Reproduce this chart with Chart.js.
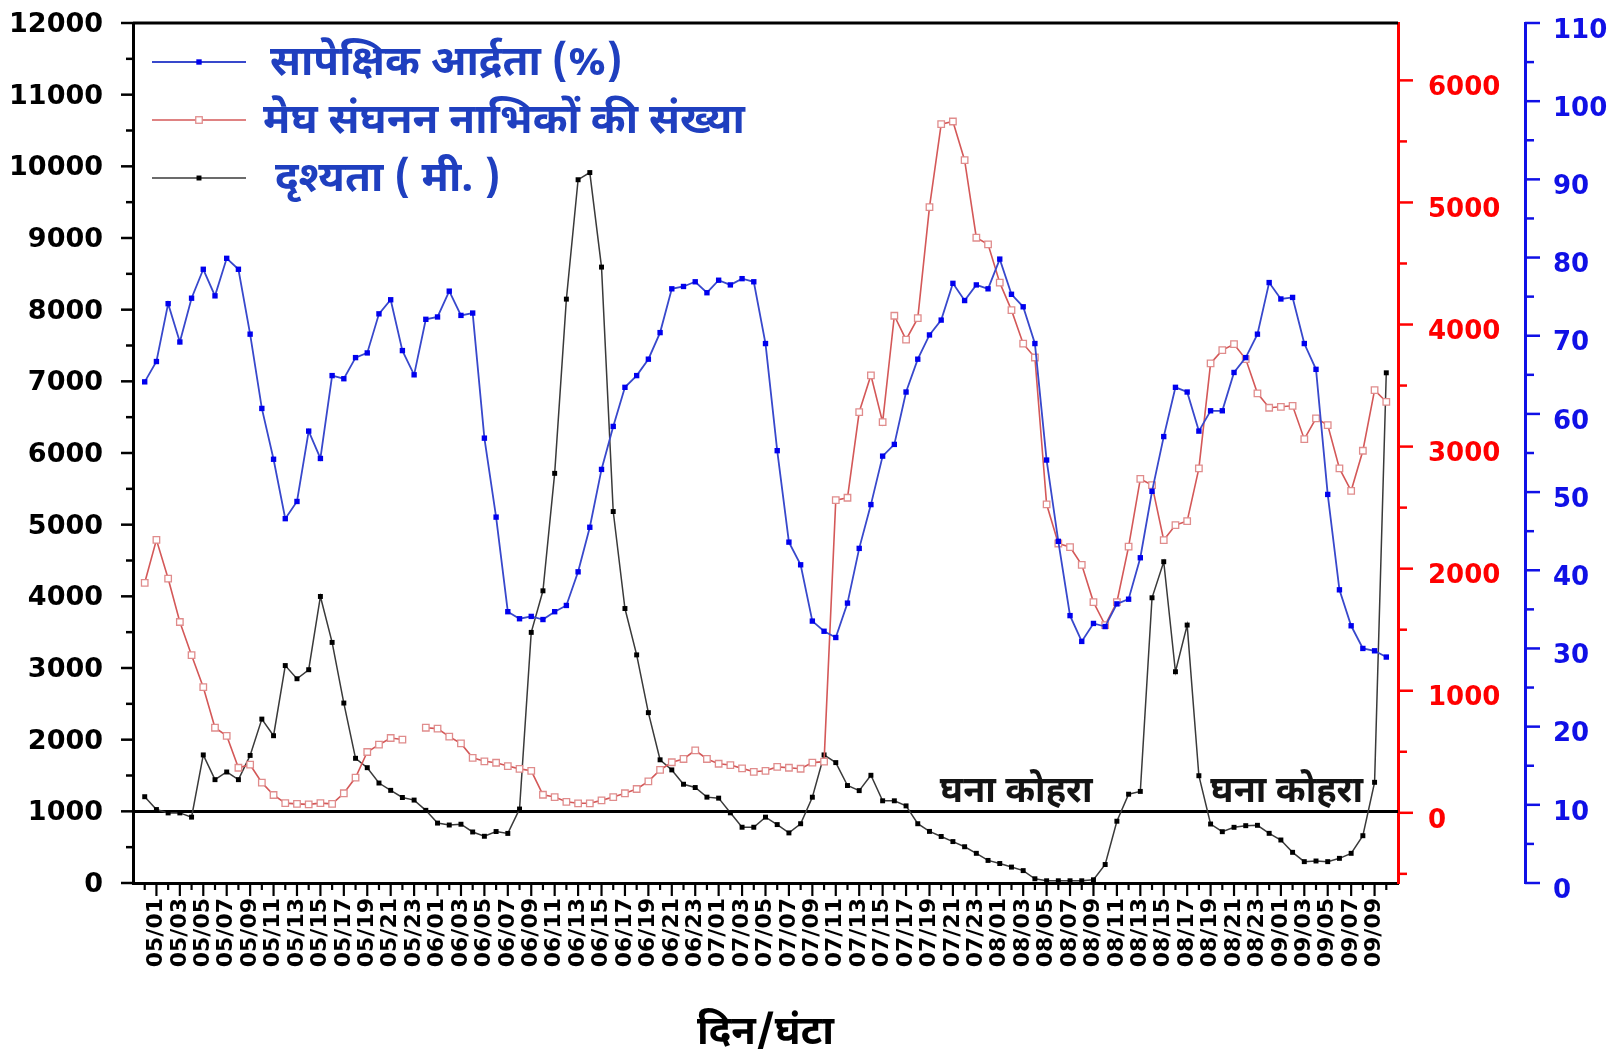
<!DOCTYPE html>
<html>
<head>
<meta charset="utf-8">
<script src="https://cdn.jsdelivr.net/npm/chart.js@4/dist/chart.umd.min.js"></script>
<style>
html,body{margin:0;padding:0;background:#ffffff;}
canvas{display:block;}
</style>
</head>
<body>
<canvas id="c" width="1623" height="1049"></canvas>
<script>
// ---------- DATA ----------
const categories = [
"05/00","05/01","05/02","05/03","05/04","05/05","05/06","05/07","05/08","05/09","05/10","05/11","05/12","05/13","05/14","05/15","05/16","05/17","05/18","05/19","05/20","05/21","05/22","05/23",
"06/00","06/01","06/02","06/03","06/04","06/05","06/06","06/07","06/08","06/09","06/10","06/11","06/12","06/13","06/14","06/15","06/16","06/17","06/18","06/19","06/20","06/21","06/22","06/23",
"07/00","07/01","07/02","07/03","07/04","07/05","07/06","07/07","07/08","07/09","07/10","07/11","07/12","07/13","07/14","07/15","07/16","07/17","07/18","07/19","07/20","07/21","07/22","07/23",
"08/00","08/01","08/02","08/03","08/04","08/05","08/06","08/07","08/08","08/09","08/10","08/11","08/12","08/13","08/14","08/15","08/16","08/17","08/18","08/19","08/20","08/21","08/22","08/23",
"09/00","09/01","09/02","09/03","09/04","09/05","09/06","09/07","09/08","09/09","09/10"
];

// Relative humidity (%) - right blue axis
const rhValues = [
64.1, 66.7, 74.1, 69.2, 74.8, 78.5, 75.1, 79.9, 78.5, 70.2,
60.7, 54.2, 46.6, 48.8, 57.8, 54.3, 64.9, 64.5, 67.2, 67.8,
72.8, 74.6, 68.1, 65.0, 72.1, 72.4, 75.7, 72.6, 72.9, 56.9,
46.8, 34.7, 33.8, 34.1, 33.7, 34.7, 35.5, 39.8, 45.5, 52.9,
58.4, 63.4, 64.9, 67.0, 70.4, 76.0, 76.3, 76.9, 75.5, 77.1,
76.5, 77.3, 76.9, 69.0, 55.3, 43.6, 40.7, 33.5, 32.2, 31.4,
35.8, 42.8, 48.4, 54.6, 56.1, 62.8, 67.0, 70.1, 72.0, 76.7,
74.5, 76.5, 76.0, 79.8, 75.3, 73.7, 69.0, 54.1, 43.7, 34.2,
30.9, 33.2, 32.8, 35.7, 36.3, 41.6, 50.1, 57.1, 63.4, 62.8,
57.8, 60.4, 60.4, 65.3, 67.2, 70.2, 76.8, 74.7, 74.9, 69.0,
65.7, 49.7, 37.5, 32.9, 30.0, 29.7, 28.9
];

// Cloud condensation nuclei count - right red axis
const ccnValues = [
1884, 2236, 1919, 1563, 1291, 1029, 697, 631, 369, 394,
247, 146, 79, 73, 69, 79, 73, 160, 289, 498,
558, 613, 600, null, 697, 690, 624, 568, 450, 422,
410, 383, 360, 344, 148, 129, 90, 78, 78, 102,
129, 160, 195, 258, 351, 414, 441, 512, 441, 402,
391, 364, 336, 344, 376, 369, 361, 411, 419, 2561,
2581, 3283, 3584, 3200, 4072, 3876, 4052, 4961, 5641, 5663,
5346, 4711, 4657, 4343, 4118, 3843, 3730, 2527, 2206, 2177,
2031, 1726, 1538, 1726, 2181, 2735, 2685, 2234, 2357, 2390,
2821, 3681, 3790, 3839, 3717, 3436, 3318, 3326, 3334, 3061,
3231, 3176, 2821, 2638, 2966, 3463, 3367
];

// Visibility (m) - left black axis
const visValues = [
1204, 1025, 978, 978, 919, 1787, 1442, 1549, 1442, 1780,
2287, 2055, 3034, 2850, 2976, 3998, 3357, 2511, 1740, 1609,
1395, 1293, 1193, 1157, 1014, 836, 809, 820, 712, 652,
718, 692, 1032, 3497, 4077, 5716, 8147, 9813, 9913, 8594,
5183, 3830, 3183, 2377, 1719, 1578, 1378, 1332, 1198, 1184,
979, 778, 778, 919, 815, 699, 827, 1197, 1787, 1680,
1360, 1289, 1503, 1147, 1147, 1076, 827, 720, 649, 578,
506, 414, 315, 272, 222, 173, 59, 31, 31, 31,
31, 45, 258, 862, 1239, 1278, 3980, 4483, 2948, 3599,
1497, 823, 716, 777, 800, 805, 693, 600, 428, 298,
307, 298, 344, 414, 660, 1405, 7119
];

const visTickValues = [0,1000,2000,3000,4000,5000,6000,7000,8000,9000,10000,11000,12000];
const ccnTickValues = [0,1000,2000,3000,4000,5000,6000];
const rhTickValues = [0,10,20,30,40,50,60,70,80,90,100,110];

const seriesLabels = ["सापेक्षिक आर्द्रता (%)", "मेघ संघनन नाभिकों की संख्या", "दृश्यता ( मी. )"];
const xAxisTitle = "दिन/घंटा";
const fogText = "घना कोहरा";
const fogThreshold = 1000;

// ---------- STYLE ----------
const FONT_NUM = "'DejaVu Sans', 'Liberation Sans', sans-serif";
const FONT_DEV = "'Noto Sans Devanagari', 'Lohit Devanagari', 'Noto Sans', 'FreeSans', sans-serif";
const RED = '#ff0000';
const BLUE = '#1010e6';

const toPoints = arr => arr.map((v, i) => ({x: i, y: v}));
const noPadV = s => { s.paddingTop = 0; s.paddingBottom = 0; };

const decor = {
  id: 'decor',
  beforeDatasetsDraw(chart) {
    const {ctx, chartArea: a, scales} = chart;
    ctx.save();
    ctx.strokeStyle = '#000';
    ctx.lineWidth = 3;
    ctx.beginPath(); ctx.moveTo(a.left, a.top); ctx.lineTo(a.right, a.top); ctx.stroke();
    const yy = Math.round(scales.y.getPixelForValue(fogThreshold)) + 0.5;
    ctx.beginPath(); ctx.moveTo(a.left, yy); ctx.lineTo(a.right, yy); ctx.stroke();
    ctx.restore();
  },
  afterDraw(chart) {
    const {ctx, chartArea: a, scales} = chart;
    ctx.save();
    const line = (x1, y1, x2, y2, c, w) => {
      ctx.strokeStyle = c; ctx.lineWidth = w;
      ctx.beginPath(); ctx.moveTo(x1, y1); ctx.lineTo(x2, y2); ctx.stroke();
    };
    // x ticks: every hour, longer on labelled hours
    for (let i = 0; i < categories.length; i++) {
      const px = scales.x.getPixelForValue(i);
      line(px, a.bottom, px, a.bottom + (i % 2 === 1 ? 13 : 7), '#000', 2.2);
    }
    // left axis ticks
    for (let v = 0; v <= 12000; v += 500) {
      const py = scales.y.getPixelForValue(v);
      line(a.left, py, a.left - (v % 1000 === 0 ? 12 : 7), py, '#000', 2.5);
    }
    // red axis ticks
    for (let v = -500; v <= 6000; v += 500) {
      const py = scales.yRed.getPixelForValue(v);
      line(a.right, py, a.right + (v % 1000 === 0 ? 15 : 9), py, RED, 2.5);
    }
    // blue axis ticks
    const bx = scales.yBlue.left;
    for (let v = 0; v <= 110; v += 5) {
      const py = scales.yBlue.getPixelForValue(v);
      line(bx, py, bx + (v % 10 === 0 ? 15 : 9), py, BLUE, 2.5);
    }
    // fog annotations
    const opts = chart.options.plugins.decor;
    ctx.font = 'bold ' + opts.fogFontSize + 'px ' + FONT_DEV;
    ctx.fillStyle = '#141414';
    ctx.textAlign = 'center';
    ctx.textBaseline = 'middle';
    opts.fogAnchors.forEach(p => {
      ctx.fillText(fogText, scales.x.getPixelForValue(p[0]), scales.y.getPixelForValue(p[1]));
    });
    // legend (inside plot, top-left)
    const lg = opts.legend;
    ctx.textAlign = 'left';
    ctx.font = 'bold ' + lg.fontSize + 'px ' + FONT_DEV;
    lg.order.forEach((dsIndex, row) => {
      const ds = chart.data.datasets[dsIndex];
      const y = a.top + lg.firstRow + row * lg.rowGap;
      const x1 = a.left + lg.lineStart, x2 = a.left + lg.lineEnd;
      line(x1, y, x2, y, ds.borderColor, ds.borderWidth);
      const mx = (x1 + x2) / 2;
      const s = ds.pointRadius * Math.SQRT1_2;
      ctx.fillStyle = ds.pointBackgroundColor;
      ctx.fillRect(mx - s, y - s, 2 * s, 2 * s);
      if (ds.pointBorderWidth) {
        ctx.strokeStyle = ds.pointBorderColor; ctx.lineWidth = ds.pointBorderWidth;
        ctx.strokeRect(mx - s, y - s, 2 * s, 2 * s);
      }
      ctx.fillStyle = lg.color;
      ctx.fillText(ds.label, a.left + lg.textStart[row], y + lg.textDrop);
    });
    ctx.restore();
  }
};

new Chart(document.getElementById('c'), {
  type: 'line',
  data: {
    datasets: [
      {
        label: seriesLabels[0], data: toPoints(rhValues), yAxisID: 'yBlue',
        borderColor: '#3848cc', borderWidth: 1.8,
        pointStyle: 'rect', pointRadius: 3.8,
        pointBackgroundColor: '#0000ee', pointBorderColor: '#0000ee', pointBorderWidth: 0
      },
      {
        label: seriesLabels[1], data: toPoints(ccnValues), yAxisID: 'yRed',
        borderColor: '#d45858', borderWidth: 1.6,
        pointStyle: 'rect', pointRadius: 4.6,
        pointBackgroundColor: '#ffffff', pointBorderColor: '#e08c8c', pointBorderWidth: 1.3,
        spanGaps: false
      },
      {
        label: seriesLabels[2], data: toPoints(visValues), yAxisID: 'y',
        borderColor: '#3a3a3a', borderWidth: 1.5,
        pointStyle: 'rect', pointRadius: 3.5,
        pointBackgroundColor: '#000000', pointBorderColor: '#000000', pointBorderWidth: 0
      }
    ]
  },
  options: {
    responsive: false,
    animation: false,
    devicePixelRatio: 1,
    layout: {padding: {top: 23, left: 0, right: 0, bottom: 0}},
    elements: {line: {tension: 0}},
    plugins: {
      legend: {display: false},
      tooltip: {enabled: false},
      decor: {
        fogFontSize: 36,
        fogAnchors: [[74.4, 1230], [97.5, 1220]],
        legend: {order: [0, 1, 2], firstRow: 39, rowGap: 58, lineStart: 19, lineEnd: 113, textStart: [137, 130, 142], textDrop: 5, fontSize: 42, color: '#1f3fbf'}
      }
    },
    scales: {
      x: {
        type: 'linear', min: -1, max: 107,
        grid: {display: false, drawTicks: false},
        border: {display: true, color: '#000', width: 3},
        ticks: {
          stepSize: 1, autoSkip: false, maxTicksLimit: 500,
          minRotation: 90, maxRotation: 90, padding: 15,
          color: '#000', font: {family: FONT_NUM, size: 22, weight: 'bold'},
          callback: v => (Number.isInteger(v) && v % 2 === 1 && v < categories.length) ? categories[v] : ''
        },
        title: {display: true, text: xAxisTitle, color: '#000', font: {family: FONT_DEV, size: 40, weight: 'bold', lineHeight: 0.5}, padding: {top: 0, bottom: 2}},
        afterFit: s => { s.height = 166; s.paddingLeft = 0; s.paddingRight = 0; }
      },
      y: {
        type: 'linear', position: 'left', min: 0, max: 12000,
        grid: {display: false, drawTicks: false},
        border: {display: true, color: '#000', width: 3},
        ticks: {stepSize: 1000, padding: 30, labelOffset: 2, color: '#000', font: {family: FONT_NUM, size: 27, weight: 'bold'}, callback: v => String(v)},
        afterBuildTicks: s => { s.ticks = visTickValues.map(v => ({value: v})); },
        afterFit: s => { s.width = 133; noPadV(s); }
      },
      yRed: {
        type: 'linear', position: 'right', min: -575, max: 6470, weight: 0,
        grid: {display: false, drawTicks: false},
        border: {display: true, color: RED, width: 3},
        ticks: {stepSize: 1000, padding: 30, labelOffset: 8, color: RED, font: {family: FONT_NUM, size: 26, weight: 'bold'}, callback: v => String(v)},
        afterBuildTicks: s => { s.ticks = ccnTickValues.map(v => ({value: v})); },
        afterFit: s => { s.width = 127; noPadV(s); }
      },
      yBlue: {
        type: 'linear', position: 'right', min: 0, max: 110, weight: 1,
        grid: {display: false, drawTicks: false},
        border: {display: true, color: BLUE, width: 3},
        ticks: {stepSize: 10, padding: 28, labelOffset: 8, color: BLUE, font: {family: FONT_NUM, size: 26, weight: 'bold'}, callback: v => String(v)},
        afterBuildTicks: s => { s.ticks = rhTickValues.map(v => ({value: v})); },
        afterFit: s => { s.width = 98; noPadV(s); }
      }
    }
  },
  plugins: [decor]
});
</script>
</body>
</html>
